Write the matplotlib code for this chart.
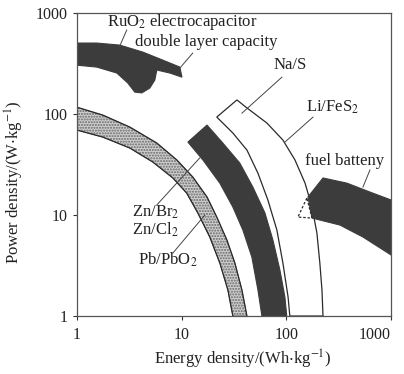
import matplotlib.pyplot as plt

plt.rcParams.update({
    "font.family": ["Liberation Serif", "DejaVu Serif"],
    "mathtext.fontset": "stix",
    "font.size": 12,
})

# band outlines, (energy Wh/kg, power W/kg)
ruo2_e = [1, 1.55, 2.57, 4.27, 6.63, 9.63, 10.1, 7.73, 5.81, 5.56, 4.98, 4.18, 3.58, 3.07, 2.41, 1.55, 1]
ruo2_p = [505, 505, 482, 411, 342, 292, 232, 255, 273, 217, 181, 162, 165, 203, 255, 292, 305]

pb_outer_e = [1, 1.77, 3.21, 5.81, 9.02, 12.8, 17.5, 21.7, 27.1, 32.3, 37.7, 42.1]
pb_outer_p = [117, 97.7, 74.3, 51.6, 35.1, 23.8, 15.1, 9.55, 5.66, 3.35, 1.81, 1]
pb_inner_e = [1, 1.77, 3.21, 5.32, 8.26, 11.2, 14.3, 18.6, 23.2, 27.7, 30.9]
pb_inner_p = [69.5, 59.2, 46.1, 33.5, 23.3, 16.5, 10.5, 6.06, 3.35, 1.81, 1]

zn_inner_e = [11.5, 16.0, 23.2, 30.9, 38.5, 46.9, 53.6, 58.5]
zn_inner_p = [52.8, 35.1, 20.7, 12.0, 7.10, 3.84, 1.81, 1]
zn_outer_e = [17.5, 24.8, 36.0, 48.0, 62.5, 74.5, 86.9, 97.0, 101]
zn_outer_p = [77.8, 51.6, 32.7, 18.9, 10.5, 5.66, 2.85, 1.54, 1]

nas_inner_e = [21.7, 30.9, 42.1, 53.6, 66.7, 81.3, 92.8, 104, 108]
nas_inner_p = [93.4, 64.9, 44.0, 26.0, 14.1, 7.10, 3.35, 1.54, 1]
nas_outer_e = [33.8, 42.1, 65.3, 92.8, 121, 151, 176, 196, 209, 219, 224]
nas_outer_p = [138, 115, 81.5, 55.3, 35.1, 20.7, 12.0, 6.63, 3.35, 1.81, 1]

fuel_e = [161, 224, 379, 628, 1000, 1000, 539, 325, 176]
fuel_p = [15.1, 23.3, 20.7, 16.9, 14.1, 4.02, 6.06, 7.96, 9.34]
tri_e = [157, 129, 176]
tri_p = [14.7, 9.55, 9.34]

dark = "#3c3c3c"
line = "#2a2a2a"

fig = plt.figure(figsize=(4.04, 3.74), dpi=100)
ax = fig.add_axes([0.19, 0.155, 0.778, 0.81])
ax.set_xscale("log")
ax.set_yscale("log")
ax.set_xlim(1, 1000)
ax.set_ylim(1, 1000)

ax.fill(ruo2_e, ruo2_p, color=dark, lw=0.8)

# Pb/PbO2 stippled band
ax.fill(pb_outer_e + pb_inner_e[::-1], pb_outer_p + pb_inner_p[::-1],
        facecolor="#cfcfcf", edgecolor="#666666", hatch="......", lw=0.6)
ax.plot(pb_outer_e, pb_outer_p, color=line, lw=0.9)
ax.plot(pb_inner_e, pb_inner_p, color=line, lw=0.9)

ax.fill(zn_inner_e + zn_outer_e[::-1], zn_inner_p + zn_outer_p[::-1], color=dark, lw=0.8)

ax.fill(nas_inner_e + nas_outer_e[::-1], nas_inner_p + nas_outer_p[::-1],
        facecolor="white", edgecolor=line, lw=0.9)

ax.fill(fuel_e, fuel_p, color=dark, lw=0.8)
ax.fill(tri_e, tri_p, facecolor="none", edgecolor=line, lw=0.9, ls=(0, (2, 1.5)))

# labels with pointer lines
labels = [
    ("RuO$_2$ electrocapacitor", 1.93, 815, "left", (3.0, 679), (2.57, 471)),
    ("double layer capacity", 3.58, 516, "left", (12.8, 402), (9.63, 285)),
    ("Na/S", 108, 305, "center", (90.8, 232), (37.7, 102)),
    ("Li/FeS$_2$", 279, 117, "center", (180, 93.4), (97, 52.8)),
    ("fuel batteny", 151, 34.3, "left", (628, 27.9), (539, 18.9)),
    ("Zn/Br$_2$", 3.35, 10.7, "left", (5.81, 12.6), (14.9, 36.7)),
    ("Zn/Cl$_2$", 3.35, 7.1, "left", None, None),
    ("Pb/PbO$_2$", 3.83, 3.58, "left", (8.26, 4.2), (16.7, 10.0)),
]
for txt, tx, ty, ha, p0, p1 in labels:
    ax.text(tx, ty, txt, ha=ha, va="center", color="#222222")
    if p0 is not None:
        ax.plot([p0[0], p1[0]], [p0[1], p1[1]], color="#444444", lw=0.7)

ax.set_xticks([1, 10, 100, 1000])
ax.set_xticklabels(["1", "10", "100", "1000"])
ax.set_yticks([1, 10, 100, 1000])
ax.set_yticklabels(["1", "10", "100", "1000"])
ax.minorticks_off()
ax.tick_params(axis="both", length=3, width=0.8, colors="#333333",
               labelcolor="#222222", labelsize=11.5)
ax.tick_params(axis="x", pad=5)
ax.get_xticklabels()[-1].set_horizontalalignment("right")
for s in ax.spines.values():
    s.set_color("#555555")
    s.set_linewidth(0.9)

ax.set_xlabel(r"Energy density/(Wh$\cdot$kg$^{-1}$)", color="#222222")
ax.set_ylabel(r"Power density/(W$\cdot$kg$^{-1}$)", color="#222222")
ax.xaxis.set_label_coords(0.529, -0.105)
ax.yaxis.set_label_coords(-0.16, 0.442)

fig.savefig("out.png", dpi=100)
